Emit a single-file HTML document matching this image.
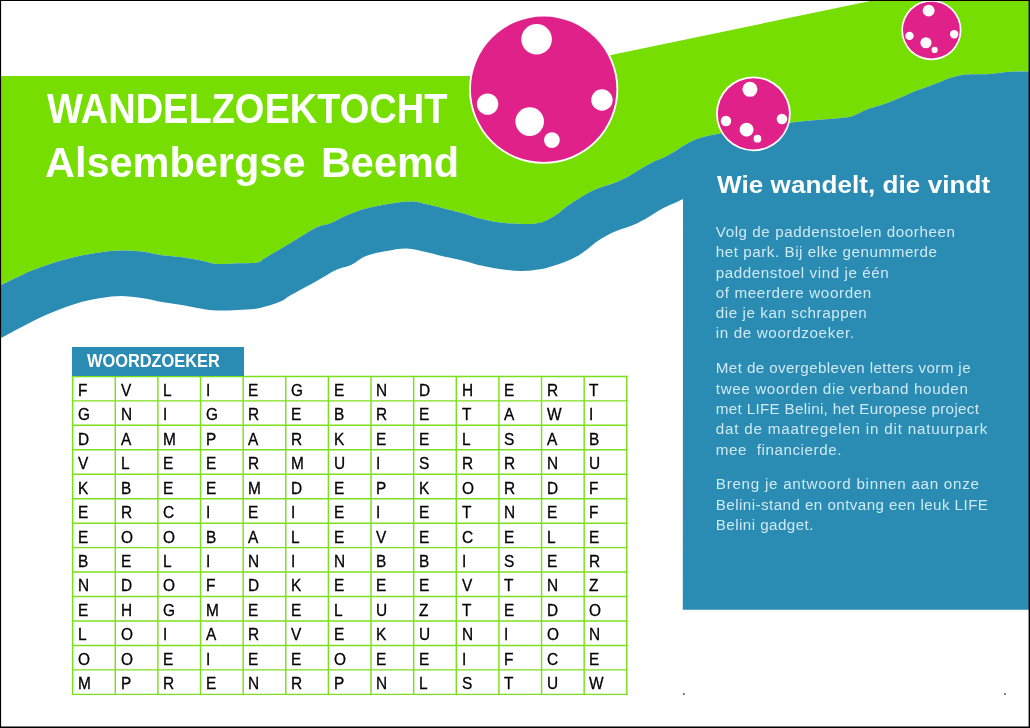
<!DOCTYPE html>
<html lang="nl"><head><meta charset="utf-8"><title>Wandelzoektocht Alsembergse Beemd</title>
<style>
html,body{margin:0;padding:0;background:#fff}
body{width:1030px;height:728px;position:relative;overflow:hidden;will-change:transform;font-family:"Liberation Sans",sans-serif}
svg.bg{position:absolute;left:0;top:0}
h1,h2,p{margin:0}
h1{color:#fff;font-weight:bold;font-size:42px}
h1 span{position:absolute;line-height:50px;height:50px;white-space:nowrap;transform-origin:0 50%}
h2{position:absolute;transform-origin:0 50%;left:716.6px;top:169.51px;color:#fff;font-weight:bold;font-size:24.8px;line-height:30px;white-space:nowrap}
.ln{position:absolute;left:715.8px;height:20px;line-height:20px;font-size:15.2px;color:#cfe9f5;white-space:nowrap}
.label{position:absolute;left:72px;top:346.8px;width:171.5px;height:29.5px;background:#2a8bb3;color:#fff;font-weight:bold;font-size:18px}
.label span{position:absolute;transform-origin:0 50%;left:14.8px;top:4.46px;line-height:20px;white-space:nowrap}
.ws{position:absolute;left:72.65px;top:376.4px;font-size:16.4px;color:#000}
.ws .r{position:absolute;left:0;height:20px;line-height:20px;margin-top:4.32px}
.ws span{position:absolute;top:0;transform:scaleX(.94);transform-origin:0 0;-webkit-text-stroke:0.3px #000}
</style></head>
<body>
<svg class="bg" width="1030" height="728" viewBox="0 0 1030 728">
<path d="M0,76 L510,76 L875.3,0 L1030,0 L1030,80 L1030,71.5 C1026.8,71.5 1015.9,71.5 1010.6,71.8 C1005.3,72.1 1002.5,72.7 998.4,73.1 C994.3,73.5 990.3,74.1 986.3,74.3 C982.3,74.5 978.2,74.2 974.2,74.3 C970.2,74.4 966.0,74.4 962,75 C958.0,75.6 954.0,76.6 950,77.9 C946.0,79.2 941.9,81.2 937.8,82.8 C933.7,84.4 929.6,86.1 925.6,87.6 C921.6,89.1 917.5,90.1 913.5,91.7 C909.5,93.3 905.4,95.5 901.4,97.3 C897.4,99.0 893.3,100.7 889.2,102.2 C885.1,103.7 881.0,105.0 877,106.3 C873.0,107.6 869.0,108.6 865,110.2 C861.0,111.8 856.8,114.7 852.8,116 C848.8,117.3 846.8,117.3 840.7,118 C834.6,118.7 824.4,119.2 816.4,119.9 C808.4,120.6 803.2,121.0 793,122.2 C782.8,123.4 767.4,125.1 755,127 C742.6,128.9 725.9,132.4 718.7,133.7 C711.5,135.0 714.1,134.4 711.8,134.9 C709.5,135.4 707.2,135.8 704.9,136.4 C702.6,137.0 700.4,137.7 698.1,138.5 C695.8,139.3 693.5,140.3 691.2,141.4 C688.9,142.5 687.1,143.5 684.3,145.2 C681.5,146.9 677.8,149.6 674.6,151.5 C671.4,153.4 668.2,155.3 665,156.9 C661.8,158.5 658.6,159.3 655.4,160.8 C652.2,162.3 649.0,164.2 645.8,166 C642.6,167.8 639.4,169.8 636.2,171.7 C633.0,173.6 629.7,175.8 626.5,177.5 C623.3,179.2 620.1,180.6 616.9,181.9 C613.7,183.2 610.5,184.1 607.3,185.2 C604.1,186.3 600.9,187.2 597.7,188.5 C594.5,189.8 591.2,191.2 588,192.9 C584.8,194.6 581.7,196.7 578.5,198.7 C575.3,200.7 572.0,202.7 568.8,205 C565.6,207.3 562.4,210.4 559.2,212.7 C556.0,215.0 552.8,217.1 549.6,218.8 C546.4,220.5 544.0,221.8 540,222.7 C536.0,223.6 532.2,224.1 525.5,224.1 C518.8,224.1 507.6,223.4 500,222.5 C492.4,221.6 485.5,219.8 480,218.5 C474.5,217.2 473.3,216.2 467,214.4 C460.7,212.7 448.7,209.7 442,208 C435.3,206.3 432.0,205.4 427,204.3 C422.0,203.2 417.7,201.6 411.8,201.5 C405.9,201.4 399.2,202.4 391.6,203.6 C384.0,204.8 373.6,206.6 366,208.6 C358.4,210.6 351.8,213.3 346,215.7 C340.2,218.1 336.0,221.0 331,223 C326.0,225.0 322.6,224.5 315.8,227.8 C309.1,231.1 299.0,238.0 290.5,243 C282.0,248.0 270.5,254.8 265,258 C259.5,261.2 262.3,261.5 257.7,262.4 C253.1,263.3 244.3,263.0 237.5,263.3 C230.7,263.6 222.9,264.4 217,264 C211.1,263.6 207.8,261.8 202,260.7 C196.2,259.6 188.7,258.1 182,257.2 C175.3,256.3 168.4,256.1 161.7,255.2 C154.9,254.3 148.3,252.4 141.5,251.6 C134.7,250.8 127.8,250.5 121,250.6 C114.2,250.7 108.5,251.2 101,252.2 C93.5,253.2 84.2,254.8 75.8,256.7 C67.4,258.6 59.0,261.0 50.5,263.8 C42.0,266.6 33.4,269.8 25,273.4 C16.6,277.0 4.2,283.5 0,285.5 Z" fill="#76de00"/>
<path d="M0,285.5 L25,273.4 C29.2,271.8 42.0,266.6 50.5,263.8 C59.0,261.0 67.4,258.6 75.8,256.7 C84.2,254.8 93.5,253.2 101,252.2 C108.5,251.2 114.2,250.7 121,250.6 C127.8,250.5 134.7,250.8 141.5,251.6 C148.3,252.4 154.9,254.3 161.7,255.2 C168.4,256.1 175.3,256.3 182,257.2 C188.7,258.1 196.2,259.6 202,260.7 C207.8,261.8 211.1,263.6 217,264 C222.9,264.4 230.7,263.6 237.5,263.3 C244.3,263.0 253.1,263.3 257.7,262.4 C262.3,261.5 259.5,261.2 265,258 C270.5,254.8 282.0,248.0 290.5,243 C299.0,238.0 309.1,231.1 315.8,227.8 C322.6,224.5 326.0,225.0 331,223 C336.0,221.0 340.2,218.1 346,215.7 C351.8,213.3 358.4,210.6 366,208.6 C373.6,206.6 384.0,204.8 391.6,203.6 C399.2,202.4 405.9,201.4 411.8,201.5 C417.7,201.6 422.0,203.2 427,204.3 C432.0,205.4 435.3,206.3 442,208 C448.7,209.7 460.7,212.7 467,214.4 C473.3,216.2 474.5,217.2 480,218.5 C485.5,219.8 492.4,221.6 500,222.5 C507.6,223.4 518.8,224.1 525.5,224.1 C532.2,224.1 536.0,223.6 540,222.7 C544.0,221.8 546.4,220.5 549.6,218.8 C552.8,217.1 556.0,215.0 559.2,212.7 C562.4,210.4 565.6,207.3 568.8,205 C572.0,202.7 575.3,200.7 578.5,198.7 C581.7,196.7 584.8,194.6 588,192.9 C591.2,191.2 594.5,189.8 597.7,188.5 C600.9,187.2 604.1,186.3 607.3,185.2 C610.5,184.1 613.7,183.2 616.9,181.9 C620.1,180.6 623.3,179.2 626.5,177.5 C629.7,175.8 633.0,173.6 636.2,171.7 C639.4,169.8 642.6,167.8 645.8,166 C649.0,164.2 652.2,162.3 655.4,160.8 C658.6,159.3 661.8,158.5 665,156.9 C668.2,155.3 671.4,153.4 674.6,151.5 C677.8,149.6 681.5,146.9 684.3,145.2 C687.1,143.5 688.9,142.5 691.2,141.4 C693.5,140.3 695.8,139.3 698.1,138.5 C700.4,137.7 702.6,137.0 704.9,136.4 C707.2,135.8 709.5,135.4 711.8,134.9 C714.1,134.4 711.5,135.0 718.7,133.7 C725.9,132.4 742.6,128.9 755,127 C767.4,125.1 782.8,123.4 793,122.2 C803.2,121.0 808.4,120.6 816.4,119.9 C824.4,119.2 834.6,118.7 840.7,118 C846.8,117.3 848.8,117.3 852.8,116 C856.8,114.7 861.0,111.8 865,110.2 C869.0,108.6 873.0,107.6 877,106.3 C881.0,105.0 885.1,103.7 889.2,102.2 C893.3,100.7 897.4,99.0 901.4,97.3 C905.4,95.5 909.5,93.3 913.5,91.7 C917.5,90.1 921.6,89.1 925.6,87.6 C929.6,86.1 933.7,84.4 937.8,82.8 C941.9,81.2 946.0,79.2 950,77.9 C954.0,76.6 958.0,75.6 962,75 C966.0,74.4 970.2,74.4 974.2,74.3 C978.2,74.2 982.3,74.5 986.3,74.3 C990.3,74.1 994.3,73.5 998.4,73.1 C1002.5,72.7 1005.3,72.1 1010.6,71.8 C1015.9,71.5 1026.8,71.5 1030,71.5 L1030,609.7 L682.8,609.7 L683,199 C681.6,199.7 677.6,201.7 674.6,203.1 C671.6,204.5 668.2,205.7 665,207.3 C661.8,208.9 658.6,210.8 655.4,212.7 C652.2,214.6 649.0,217.0 645.8,218.8 C642.6,220.6 639.4,222.2 636.2,223.7 C633.0,225.1 629.7,226.3 626.5,227.5 C623.3,228.7 620.1,229.5 616.9,230.8 C613.7,232.1 610.5,233.5 607.3,235.2 C604.1,236.9 600.9,238.8 597.7,241 C594.5,243.2 591.2,246.3 588,248.7 C584.8,251.1 581.7,253.5 578.5,255.4 C575.3,257.3 572.0,258.8 568.8,260.2 C565.6,261.6 562.4,262.9 559.2,264 C556.0,265.1 552.8,266.0 549.6,266.9 C546.4,267.8 544.9,268.5 540,269.2 C535.1,269.9 527.1,271.0 520.4,271 C513.7,271.0 506.7,269.9 500,269 C493.3,268.1 485.5,266.5 480,265.3 C474.5,264.1 473.3,263.2 467,261.7 C460.7,260.1 448.7,257.6 442,256 C435.3,254.4 432.9,253.6 427,252.3 C421.1,251.1 413.6,248.7 406.8,248.5 C400.1,248.3 393.3,249.8 386.5,251 C379.7,252.2 371.9,253.7 366,256 C360.1,258.3 356.0,262.7 351,265 C346.0,267.3 341.9,267.3 336,270 C330.1,272.7 323.4,277.2 315.8,281.4 C308.2,285.6 296.4,291.9 290.5,295.3 C284.6,298.7 285.5,299.5 280.4,301.6 C275.3,303.7 267.1,306.6 260,308 C252.8,309.4 244.7,309.6 237.5,310 C230.3,310.4 222.9,310.7 217,310.5 C211.1,310.3 207.8,309.6 202,308.7 C196.2,307.8 188.7,306.1 182,305 C175.3,303.9 168.4,303.0 161.7,301.9 C154.9,300.8 148.3,299.1 141.5,298.1 C134.7,297.1 127.8,296.1 121,296.1 C114.2,296.1 108.5,296.8 101,298.1 C93.5,299.4 84.2,301.2 75.8,303.7 C67.4,306.2 59.0,309.4 50.5,313 C42.0,316.6 33.4,320.9 25,325.2 C16.6,329.4 4.2,336.3 0,338.5 Z" fill="#2a8bb3"/>
<circle cx="543.65" cy="89.25" r="74.6" fill="#fff"/><circle cx="543.65" cy="89.25" r="72.75" fill="#e0218a"/><circle cx="536.60" cy="39.30" r="15.30" fill="#fff"/><circle cx="487.60" cy="104.10" r="10.70" fill="#fff"/><circle cx="529.70" cy="121.60" r="14.30" fill="#fff"/><circle cx="551.90" cy="140.10" r="7.90" fill="#fff"/><circle cx="601.95" cy="100.00" r="10.70" fill="#fff"/>
<circle cx="753.4" cy="113.8" r="37.4" fill="#fff"/><circle cx="753.4" cy="113.8" r="35.6" fill="#e0218a"/><circle cx="749.95" cy="89.36" r="7.49" fill="#fff"/><circle cx="725.97" cy="121.07" r="5.24" fill="#fff"/><circle cx="746.57" cy="129.63" r="7.00" fill="#fff"/><circle cx="757.44" cy="138.68" r="3.87" fill="#fff"/><circle cx="781.93" cy="119.06" r="5.24" fill="#fff"/>
<circle cx="931.4" cy="30.1" r="30.1" fill="#fff"/><circle cx="931.4" cy="30.1" r="28.4" fill="#e0218a"/><circle cx="928.65" cy="10.60" r="5.97" fill="#fff"/><circle cx="909.52" cy="35.90" r="4.18" fill="#fff"/><circle cx="925.95" cy="42.73" r="5.58" fill="#fff"/><circle cx="934.62" cy="49.95" r="3.08" fill="#fff"/><circle cx="954.16" cy="34.30" r="4.18" fill="#fff"/>
<g stroke="#7cdf1c" stroke-width="1.45"><line x1="72.65" y1="375.67" x2="72.65" y2="695.08"/><line x1="115.28" y1="375.67" x2="115.28" y2="695.08"/><line x1="157.90" y1="375.67" x2="157.90" y2="695.08"/><line x1="200.53" y1="375.67" x2="200.53" y2="695.08"/><line x1="243.16" y1="375.67" x2="243.16" y2="695.08"/><line x1="285.78" y1="375.67" x2="285.78" y2="695.08"/><line x1="328.41" y1="375.67" x2="328.41" y2="695.08"/><line x1="371.04" y1="375.67" x2="371.04" y2="695.08"/><line x1="413.67" y1="375.67" x2="413.67" y2="695.08"/><line x1="456.29" y1="375.67" x2="456.29" y2="695.08"/><line x1="498.92" y1="375.67" x2="498.92" y2="695.08"/><line x1="541.55" y1="375.67" x2="541.55" y2="695.08"/><line x1="584.17" y1="375.67" x2="584.17" y2="695.08"/><line x1="626.80" y1="375.67" x2="626.80" y2="695.08"/><line x1="71.93" y1="376.40" x2="627.52" y2="376.40"/><line x1="71.93" y1="400.86" x2="627.52" y2="400.86"/><line x1="71.93" y1="425.32" x2="627.52" y2="425.32"/><line x1="71.93" y1="449.77" x2="627.52" y2="449.77"/><line x1="71.93" y1="474.23" x2="627.52" y2="474.23"/><line x1="71.93" y1="498.69" x2="627.52" y2="498.69"/><line x1="71.93" y1="523.15" x2="627.52" y2="523.15"/><line x1="71.93" y1="547.60" x2="627.52" y2="547.60"/><line x1="71.93" y1="572.06" x2="627.52" y2="572.06"/><line x1="71.93" y1="596.52" x2="627.52" y2="596.52"/><line x1="71.93" y1="620.98" x2="627.52" y2="620.98"/><line x1="71.93" y1="645.43" x2="627.52" y2="645.43"/><line x1="71.93" y1="669.89" x2="627.52" y2="669.89"/><line x1="71.93" y1="694.35" x2="627.52" y2="694.35"/></g>
</svg>
<h1><span id="t1" style="left:46.68px;top:83.95px;letter-spacing:0.000px;transform:scaleX(0.9048)">WANDELZOEKTOCHT</span><span id="t2" style="left:44.60px;top:137.85px;word-spacing:4px;transform:scaleX(0.9873)">Alsembergse Beemd</span></h1>
<h2 id="hd" style="letter-spacing:0.066px;transform:scaleX(1.0500)">Wie wandelt, die vindt</h2>
<p>
<span class="ln" id="a0" style="top:221.83px;letter-spacing:0.557px">Volg de paddenstoelen doorheen</span>
<span class="ln" id="a1" style="top:242.03px;letter-spacing:0.540px">het park. Bij elke genummerde</span>
<span class="ln" id="a2" style="top:262.53px;letter-spacing:0.566px">paddenstoel vind je één</span>
<span class="ln" id="a3" style="top:282.93px;letter-spacing:0.613px">of meerdere woorden</span>
<span class="ln" id="a4" style="top:303.13px;letter-spacing:0.565px">die je kan schrappen</span>
<span class="ln" id="a5" style="top:323.33px;letter-spacing:0.636px">in de woordzoeker.</span>
</p>
<p>
<span class="ln" id="b0" style="top:358.33px;letter-spacing:0.393px">Met de overgebleven letters vorm je</span>
<span class="ln" id="b1" style="top:378.73px;letter-spacing:0.635px">twee woorden die verband houden</span>
<span class="ln" id="b2" style="top:399.23px;letter-spacing:0.323px">met LIFE Belini, het Europese project</span>
<span class="ln" id="b3" style="top:419.43px;letter-spacing:0.788px">dat de maatregelen in dit natuurpark</span>
<span class="ln" id="b4" style="top:439.53px;letter-spacing:0.574px">mee&nbsp; financierde.</span>
</p>
<p>
<span class="ln" id="c0" style="top:474.13px;letter-spacing:0.731px">Breng je antwoord binnen aan onze</span>
<span class="ln" id="c1" style="top:494.63px;letter-spacing:0.431px">Belini-stand en ontvang een leuk LIFE</span>
<span class="ln" id="c2" style="top:514.83px;letter-spacing:0.435px">Belini gadget.</span>
</p>

<div class="label"><span id="lb" style="letter-spacing:0.000px;transform:scaleX(0.9096)">WOORDZOEKER</span></div>
<div class="ws">
<div class="r" style="top:-0.90px"><span style="left:5.30px">F</span><span style="left:47.93px">V</span><span style="left:90.55px">L</span><span style="left:133.18px">I</span><span style="left:175.81px">E</span><span style="left:218.43px">G</span><span style="left:261.06px">E</span><span style="left:303.69px">N</span><span style="left:346.32px">D</span><span style="left:388.94px">H</span><span style="left:431.57px">E</span><span style="left:474.20px">R</span><span style="left:516.82px">T</span></div>
<div class="r" style="top:23.56px"><span style="left:5.30px">G</span><span style="left:47.93px">N</span><span style="left:90.55px">I</span><span style="left:133.18px">G</span><span style="left:175.81px">R</span><span style="left:218.43px">E</span><span style="left:261.06px">B</span><span style="left:303.69px">R</span><span style="left:346.32px">E</span><span style="left:388.94px">T</span><span style="left:431.57px">A</span><span style="left:474.20px">W</span><span style="left:516.82px">I</span></div>
<div class="r" style="top:48.02px"><span style="left:5.30px">D</span><span style="left:47.93px">A</span><span style="left:90.55px">M</span><span style="left:133.18px">P</span><span style="left:175.81px">A</span><span style="left:218.43px">R</span><span style="left:261.06px">K</span><span style="left:303.69px">E</span><span style="left:346.32px">E</span><span style="left:388.94px">L</span><span style="left:431.57px">S</span><span style="left:474.20px">A</span><span style="left:516.82px">B</span></div>
<div class="r" style="top:72.47px"><span style="left:5.30px">V</span><span style="left:47.93px">L</span><span style="left:90.55px">E</span><span style="left:133.18px">E</span><span style="left:175.81px">R</span><span style="left:218.43px">M</span><span style="left:261.06px">U</span><span style="left:303.69px">I</span><span style="left:346.32px">S</span><span style="left:388.94px">R</span><span style="left:431.57px">R</span><span style="left:474.20px">N</span><span style="left:516.82px">U</span></div>
<div class="r" style="top:96.93px"><span style="left:5.30px">K</span><span style="left:47.93px">B</span><span style="left:90.55px">E</span><span style="left:133.18px">E</span><span style="left:175.81px">M</span><span style="left:218.43px">D</span><span style="left:261.06px">E</span><span style="left:303.69px">P</span><span style="left:346.32px">K</span><span style="left:388.94px">O</span><span style="left:431.57px">R</span><span style="left:474.20px">D</span><span style="left:516.82px">F</span></div>
<div class="r" style="top:121.39px"><span style="left:5.30px">E</span><span style="left:47.93px">R</span><span style="left:90.55px">C</span><span style="left:133.18px">I</span><span style="left:175.81px">E</span><span style="left:218.43px">I</span><span style="left:261.06px">E</span><span style="left:303.69px">I</span><span style="left:346.32px">E</span><span style="left:388.94px">T</span><span style="left:431.57px">N</span><span style="left:474.20px">E</span><span style="left:516.82px">F</span></div>
<div class="r" style="top:145.85px"><span style="left:5.30px">E</span><span style="left:47.93px">O</span><span style="left:90.55px">O</span><span style="left:133.18px">B</span><span style="left:175.81px">A</span><span style="left:218.43px">L</span><span style="left:261.06px">E</span><span style="left:303.69px">V</span><span style="left:346.32px">E</span><span style="left:388.94px">C</span><span style="left:431.57px">E</span><span style="left:474.20px">L</span><span style="left:516.82px">E</span></div>
<div class="r" style="top:170.30px"><span style="left:5.30px">B</span><span style="left:47.93px">E</span><span style="left:90.55px">L</span><span style="left:133.18px">I</span><span style="left:175.81px">N</span><span style="left:218.43px">I</span><span style="left:261.06px">N</span><span style="left:303.69px">B</span><span style="left:346.32px">B</span><span style="left:388.94px">I</span><span style="left:431.57px">S</span><span style="left:474.20px">E</span><span style="left:516.82px">R</span></div>
<div class="r" style="top:194.76px"><span style="left:5.30px">N</span><span style="left:47.93px">D</span><span style="left:90.55px">O</span><span style="left:133.18px">F</span><span style="left:175.81px">D</span><span style="left:218.43px">K</span><span style="left:261.06px">E</span><span style="left:303.69px">E</span><span style="left:346.32px">E</span><span style="left:388.94px">V</span><span style="left:431.57px">T</span><span style="left:474.20px">N</span><span style="left:516.82px">Z</span></div>
<div class="r" style="top:219.22px"><span style="left:5.30px">E</span><span style="left:47.93px">H</span><span style="left:90.55px">G</span><span style="left:133.18px">M</span><span style="left:175.81px">E</span><span style="left:218.43px">E</span><span style="left:261.06px">L</span><span style="left:303.69px">U</span><span style="left:346.32px">Z</span><span style="left:388.94px">T</span><span style="left:431.57px">E</span><span style="left:474.20px">D</span><span style="left:516.82px">O</span></div>
<div class="r" style="top:243.68px"><span style="left:5.30px">L</span><span style="left:47.93px">O</span><span style="left:90.55px">I</span><span style="left:133.18px">A</span><span style="left:175.81px">R</span><span style="left:218.43px">V</span><span style="left:261.06px">E</span><span style="left:303.69px">K</span><span style="left:346.32px">U</span><span style="left:388.94px">N</span><span style="left:431.57px">I</span><span style="left:474.20px">O</span><span style="left:516.82px">N</span></div>
<div class="r" style="top:268.13px"><span style="left:5.30px">O</span><span style="left:47.93px">O</span><span style="left:90.55px">E</span><span style="left:133.18px">I</span><span style="left:175.81px">E</span><span style="left:218.43px">E</span><span style="left:261.06px">O</span><span style="left:303.69px">E</span><span style="left:346.32px">E</span><span style="left:388.94px">I</span><span style="left:431.57px">F</span><span style="left:474.20px">C</span><span style="left:516.82px">E</span></div>
<div class="r" style="top:292.59px"><span style="left:5.30px">M</span><span style="left:47.93px">P</span><span style="left:90.55px">R</span><span style="left:133.18px">E</span><span style="left:175.81px">N</span><span style="left:218.43px">R</span><span style="left:261.06px">P</span><span style="left:303.69px">N</span><span style="left:346.32px">L</span><span style="left:388.94px">S</span><span style="left:431.57px">T</span><span style="left:474.20px">U</span><span style="left:516.82px">W</span></div>
</div>
<svg class="bg" style="z-index:9" width="1030" height="728" viewBox="0 0 1030 728"><path d="M0,0H1030V728H0Z M1.1,1.1V726.5H1028.6V1.1Z" fill="#000" fill-rule="evenodd"/><rect x="683.1" y="693.3" width="1.5" height="1.5" fill="#222"/><rect x="1004.2" y="693.3" width="1.5" height="1.5" fill="#222"/></svg>
</body></html>
